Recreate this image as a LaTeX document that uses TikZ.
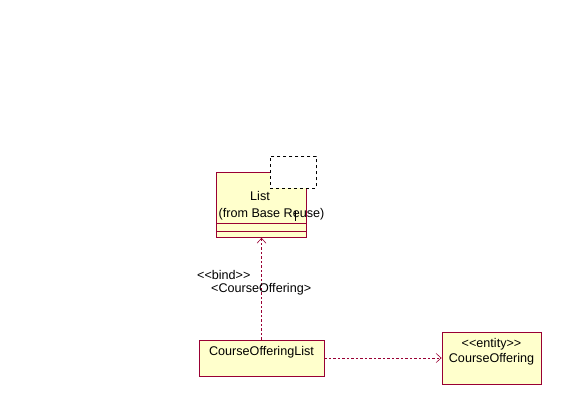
\documentclass[tikz,border=0pt]{standalone}
\usepackage{fontspec}
\setmainfont{Liberation Sans}
\usetikzlibrary{arrows.meta}
\definecolor{umlred}{HTML}{990033}
\definecolor{umlfill}{HTML}{FFFFCC}
\begin{document}
\begin{tikzpicture}[x=1pt,y=-1pt,
  cls/.style={draw=umlred,fill=umlfill,line width=0.8pt,inner sep=0pt},
  dep/.style={draw=umlred,line width=0.6pt,dash pattern=on 2.5pt off 2pt,-{Straight Barb[length=5pt,width=9pt,line width=0.6pt]}},
  lbl/.style={font=\fontsize{12.6}{14}\selectfont,inner sep=0pt}]
\useasboundingbox (0,0) rectangle (568,407);
% List class
\node[cls,minimum width=90pt,minimum height=65pt,anchor=north west] (list) at (216,172) {};
\draw[umlred,line width=0.8pt] (216,223) -- (306,223) (216,231) -- (306,231);
\node[draw=black,fill=white,dashed,line width=0.6pt,minimum width=46pt,minimum height=32pt,anchor=north west] (tpl) at (270,156) {};
\node[lbl] (listname) at (260,196) {List};
\node[lbl] (listfrom) at (271.5,214) {(from Base Reuse)};
\coordinate (caretTop) at (295,211);
\coordinate (caretBot) at (295,221);
\draw[black,line width=0.7pt] (caretTop) -- (caretBot);
% CourseOfferingList
\node[cls,minimum width=125pt,minimum height=36pt] (col) at (261.5,358) {};
\node[lbl] (coltext) at (261.5,352) {CourseOfferingList};
% CourseOffering
\node[cls,minimum width=99pt,minimum height=52pt] (co) at (491.5,358) {};
\node[lbl] (coster) at (491.5,344) {<{}<entity>{}>};
\node[lbl] (coname) at (491.5,359) {CourseOffering};
% connectors
\draw[dep] (col.north) -- (list.south -| col.north);
\draw[dep] (col.east) -- (co.west);
% labels
\node[lbl,anchor=west] (bind) at (197,275) {<{}<bind>{}>};
\node[lbl,anchor=west] (bindarg) at (211,289) {<CourseOffering>};
\end{tikzpicture}
\end{document}
